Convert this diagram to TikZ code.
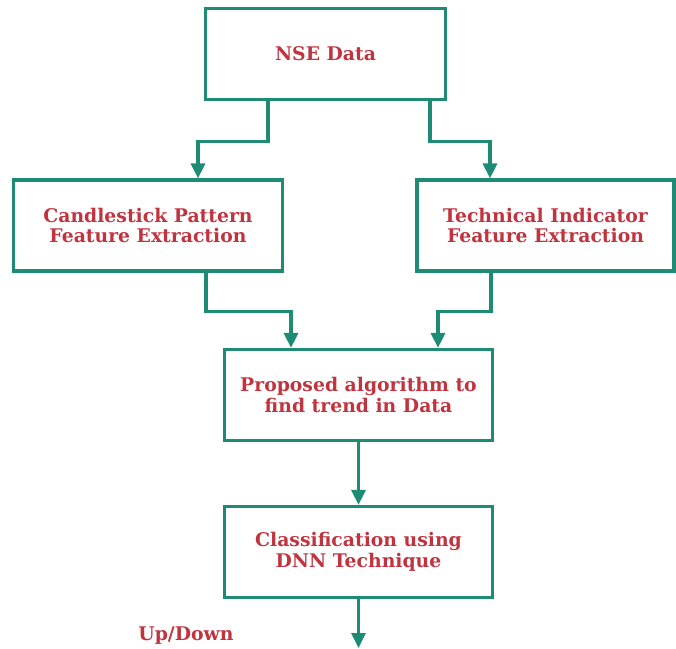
\documentclass[tikz,border=0pt]{standalone}
\usepackage{fontspec}
\setmainfont{DejaVu Serif}
\usetikzlibrary{arrows.meta,positioning}
\definecolor{boxgreen}{HTML}{1E8C74}
\definecolor{textred}{HTML}{C0343F}
\begin{document}
\begin{tikzpicture} [
   x=1pt, y=1pt, font=\bfseries\fontsize{18.8}{20.5}\selectfont,
   line width=3.2pt,
   blk/.style={rectangle, draw=boxgreen, text=textred, align=center,
               minimum height=91pt, inner sep=0pt},
   arr/.style={draw=boxgreen, -{Triangle[length=15pt,width=14pt]}}
]
   \useasboundingbox (0,0) rectangle (676,-648);
   \node (nse)   [blk, minimum width=240pt] at (325.5,-54)  {NSE Data};
   \node (cand)  [blk, minimum width=269pt] at (148,-225.5) {Candlestick Pattern\\Feature Extraction};
   \node (tech)  [blk, minimum width=257pt] at (545.5,-225.5) {Technical Indicator\\Feature Extraction};
   \node (algo)  [blk, minimum width=268pt] at (358.5,-395) {Proposed algorithm to\\find trend in Data};
   \node (dnn)   [blk, minimum width=268pt] at (358.5,-552) {Classification using\\DNN Technique};
   \node (out)   [text=textred] at (186,-636) {Up/Down};
   \coordinate (end) at (358.5,-648);
   \draw [arr] ([xshift=-57.5pt]nse.south) -- ++(0,-40) -| ([xshift=50pt]cand.north);
   \draw [arr] ([xshift=104.5pt]nse.south) -- ++(0,-40) -| ([xshift=-55.5pt]tech.north);
   \draw [arr] ([xshift=58pt]cand.south) -- ++(0,-39) -| ([xshift=-67.5pt]algo.north);
   \draw [arr] ([xshift=-54.5pt]tech.south) -- ++(0,-39) -| ([xshift=79.5pt]algo.north);
   \draw [arr] (algo) -- (dnn);
   \draw [arr] (dnn) -- (end);
\end{tikzpicture}
\end{document}
